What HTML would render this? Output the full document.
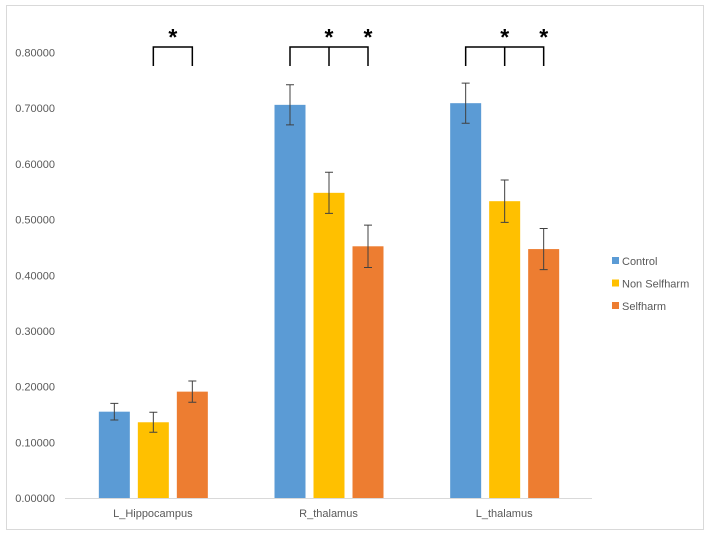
<!DOCTYPE html>
<html><head><meta charset="utf-8"><style>
html,body{margin:0;padding:0;background:#fff;}
svg text{font-family:"Liberation Sans",sans-serif;}
</style></head><body>
<svg id="chart" width="710" height="536" xmlns="http://www.w3.org/2000/svg">
<rect x="6.5" y="5.5" width="697" height="524" fill="#fff" stroke="#d9d9d9"/>
<g id="grid"></g><g id="bars"></g><g id="anno"></g><g id="legend"></g>
</svg>
<script>
const categories = ["L_Hippocampus","R_thalamus","L_thalamus"];
const seriesNames = ["Control","Non Selfharm","Selfharm"];
const colors = ["#5b9bd5","#ffc000","#ed7d31"];
const control = [0.155,0.706,0.709];
const nonSelfharm = [0.136,0.548,0.533];
const selfharm = [0.191,0.452,0.447];
const controlErr = [0.015,0.036,0.036];
const nonSelfharmErr = [0.018,0.037,0.038];
const selfharmErr = [0.019,0.038,0.037];
const yTicks = [0,0.1,0.2,0.3,0.4,0.5,0.6,0.7,0.8];
const yTickLabels = ["0.00000","0.10000","0.20000","0.30000","0.40000","0.50000","0.60000","0.70000","0.80000"];
const series = [control,nonSelfharm,selfharm];
const errs = [controlErr,nonSelfharmErr,selfharmErr];
const NS="http://www.w3.org/2000/svg";
const x0=65,x1=592,y0=498,yTop=52.5;
const y=v=>y0-(v/0.8)*(y0-yTop);
const gw=(x1-x0)/categories.length;
const bw=31,gap=8;
const bx=(c,s)=>x0+gw*c+gw/2-(bw*1.5+gap)+s*(bw+gap)+0.5;
function mk(tag,attrs,parent,text){const e=document.createElementNS(NS,tag);for(const k in attrs)e.setAttribute(k,attrs[k]);if(text!==undefined)e.textContent=text;document.getElementById(parent).appendChild(e);return e;}
yTicks.forEach((t,i)=>{
  const e=mk('text',{x:55,y:y(t)+4,'text-anchor':'end','font-size':11,fill:'#595959'},'grid',yTickLabels[i]);
  
  
});
const ax=mk('line',{x1:x0,x2:x1,y1:y0+0.5,y2:y0+0.5,stroke:'#d9d9d9'},'grid');


categories.forEach((c,i)=>{
  const e=mk('text',{x:x0+gw*i+gw/2,y:517,'text-anchor':'middle','font-size':11,fill:'#595959'},'grid',c);
  
  
});
series.forEach((s,si)=>{
  s.forEach((v,ci)=>{
    const r=mk('rect',{x:bx(ci,si),y:y(v),width:bw,height:y0-y(v),fill:colors[si]},'bars');
    
    
    const cx=bx(ci,si)+bw/2,e=errs[si][ci];
    const g=mk('path',{d:`M${cx},${y(v+e)}V${y(v-e)}M${cx-4},${y(v+e)}H${cx+4}M${cx-4},${y(v-e)}H${cx+4}`,stroke:'#404040','stroke-width':1,fill:'none'},'bars');
    
    
  });
});
function bracket(ci,full){
  const a=bx(ci,0)+bw/2,b=bx(ci,1)+bw/2,c=bx(ci,2)+bw/2;
  const d=full?`M${a},66V47H${c}V66M${b},47V66`:`M${b},66V47H${c}V66`;
  const p=mk('path',{d:d,stroke:'#000','stroke-width':1.5,fill:'none'},'anno');
  
  
  const stars=full?[b,c]:[(b+c)/2];
  stars.forEach(sx=>{
    const t=mk('text',{x:sx,y:45,'text-anchor':'middle','font-size':23,'font-weight':'bold',fill:'#000'},'anno','*');
    
    
  });
}
bracket(0,false);bracket(1,true);bracket(2,true);
seriesNames.forEach((n,i)=>{
  const yy=261+i*22.5;
  const r=mk('rect',{x:612,y:yy-4,width:7,height:7,fill:colors[i]},'legend');
  
  
  const t=mk('text',{x:622,y:yy+4,'font-size':11,fill:'#595959'},'legend',n);
  
  
});
</script>
</body></html>
